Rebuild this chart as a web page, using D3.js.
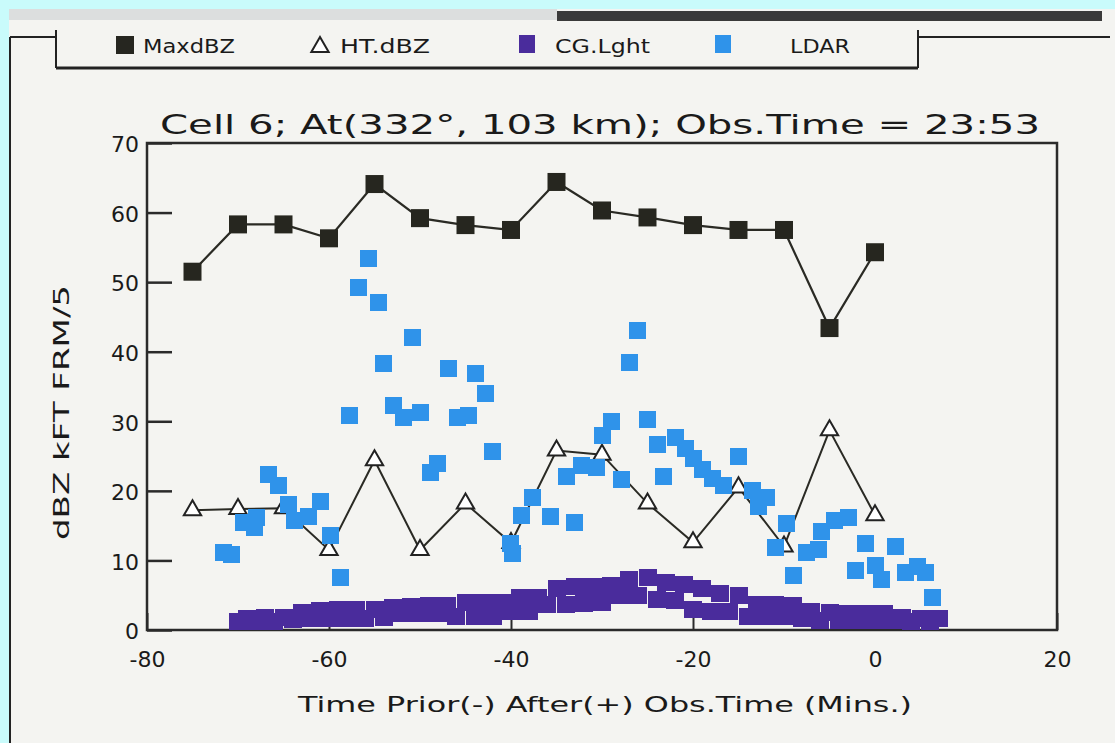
<!DOCTYPE html>
<html>
<head>
<meta charset="utf-8">
<script src="https://cdn.jsdelivr.net/npm/d3@7"></script>
<style>
  body { margin: 0; background: #c9fbfb; }
  svg { display: block; }
  text { font-family: "DejaVu Sans", sans-serif; fill: #1a1a1a; }
</style>
</head>
<body>
<div id="chart"></div>
<script>
// values
var maxTime = [-75, -70, -65, -60, -55, -50, -45, -40, -35, -30, -25, -20, -15, -10, -5, 0];
var maxDbz = [51.5, 58.3, 58.3, 56.3, 64.1, 59.2, 58.2, 57.5, 64.4, 60.3, 59.3, 58.2, 57.5, 57.5, 43.4, 54.3];

var htTime = [-75, -70, -65, -60, -55, -50, -45, -40, -35, -30, -25, -20, -15, -10, -5, 0];
var htDbz = [17.2, 17.4, 17.5, 11.5, 24.4, 11.5, 18.2, 12.5, 25.8, 25.2, 18.2, 12.6, 20.5, 12, 28.7, 16.5];

var cgTime = [-70, -69, -68, -67, -66, -65, -64, -63, -62, -61, -60, -59, -58, -57, -56, -55,
  -54, -53, -52, -51, -50, -49, -48, -47, -46, -45, -44, -43, -42, -41, -40, -39, -38, -37,
  -36, -35, -34, -33, -32, -31, -30, -29, -28, -27, -26, -25, -24, -23, -22, -21, -20, -19,
  -18, -17, -16, -15, -14, -13, -12, -11, -10, -9, -8, -7, -6, -5, -4, -3, -2, -1, 0,
  1, 2, 3, 4, 5, 6, 7];
var cgCount = [1.2, 1.7, 1.2, 1.8, 1.2, 1.8, 1.5, 2.5, 1.6, 2.8, 1.6, 2.9, 1.6, 2.9, 1.7, 2.9,
  1.8, 3.2, 2.3, 3.4, 2.3, 3.5, 2.3, 3.5, 2, 3.9, 1.9, 3.9, 2, 4, 2.6, 4.6, 2.7, 4.7,
  3.7, 6, 3.7, 6.2, 3.8, 6.3, 4, 6.4, 5, 7.2, 5, 7.5, 4.4, 6.8, 4.3, 6.6, 3, 6,
  2.6, 5.3, 2.6, 5, 2, 3.7, 1.9, 3.6, 1.9, 3.5, 1.6, 2.6, 1.4, 2.5, 1.4, 2.4, 1.4, 2.4, 1.4,
  2.3, 1.3, 1.8, 1.2, 1.7, 1.15, 1.6];

var ldarTime = [-71.6, -70.7, -69.4, -68.2, -68, -66.7, -65.6, -64.4, -63.8, -62.3, -60.9, -59.8,
  -58.7, -57.8, -56.8, -55.7, -54.6, -54, -52.9, -51.8, -50.8, -49.9, -48.9, -48.1, -46.9,
  -45.9, -44.7, -43.9, -42.8, -42, -40.1, -39.8, -38.8, -37.6, -35.7, -33.9, -33, -32.2,
  -30.6, -30, -29, -27.9, -27, -26.1, -25, -23.9, -23.2, -21.9, -20.8, -19.9, -19, -17.9,
  -16.6, -15, -13.5, -12.8, -11.9, -10.9, -9.7, -9, -7.5, -6.2, -5.9, -4.4, -2.9, -2.1,
  -1, 0, 0.7, 2.2, 3.3, 4.7, 5.6, 6.3];
var ldarValue = [11.2, 10.8, 15.5, 14.8, 16.2, 22.3, 20.8, 18, 15.8, 16.3, 18.4, 13.6,
  7.6, 30.9, 49.3, 53.4, 47.1, 38.3, 32.3, 30.5, 42.1, 31.2, 22.6, 24, 37.6,
  30.5, 30.9, 36.9, 34, 25.6, 12.5, 11, 16.5, 19, 16.3, 22, 15.4, 23.7,
  23.3, 28, 29.9, 21.6, 38.4, 43.1, 30.2, 26.6, 22, 27.7, 26.1, 24.7, 23, 21.8,
  20.8, 24.9, 20.1, 17.7, 19, 11.8, 15.3, 7.9, 11.2, 11.5, 14.1, 15.8, 16.1, 8.6,
  12.5, 9.3, 7.2, 12, 8.2, 9.1, 8.3, 4.7];

var legendNames = ["MaxdBZ", "HT.dBZ", "CG.Lght", "LDAR"];
var xTicks = [-80, -60, -40, -20, 0, 20];
var yTicks = [0, 10, 20, 30, 40, 50, 60, 70];

var W = 1115, H = 743;
var svg = d3.select("#chart").append("svg")
  .attr("width", W)
  .attr("height", H);

// paper + scan edges
svg.append("rect").attr("x", 0).attr("y", 0).attr("width", W).attr("height", H).attr("fill", "#c9fbfb");
svg.append("rect").attr("x", 9).attr("y", 9).attr("width", W - 9).attr("height", H - 9).attr("fill", "#f4f4f1");
svg.append("rect").attr("x", 9).attr("y", 9).attr("width", 548).attr("height", 11).attr("fill", "#dcdede");
svg.append("rect").attr("x", 557).attr("y", 11).attr("width", 545).attr("height", 10).attr("fill", "#3a3a3a");

var frame = svg.append("g").attr("stroke", "#222").attr("fill", "none");
frame.append("line").attr("x1", 10).attr("y1", 37).attr("x2", 10).attr("y2", H).attr("stroke-width", 2);
frame.append("line").attr("x1", 10).attr("y1", 37).attr("x2", 56).attr("y2", 37).attr("stroke-width", 2);
frame.append("line").attr("x1", 918).attr("y1", 37).attr("x2", 1110).attr("y2", 37).attr("stroke-width", 2);
frame.append("line").attr("x1", 56).attr("y1", 30).attr("x2", 56).attr("y2", 68).attr("stroke-width", 2);
frame.append("line").attr("x1", 918).attr("y1", 30).attr("x2", 918).attr("y2", 68).attr("stroke-width", 2);
frame.append("line").attr("x1", 56).attr("y1", 68).attr("x2", 918).attr("y2", 68).attr("stroke-width", 3);

// legend
var legendX = [125, 320, 527, 723];
var legendTextX = [143, 340, 555, 790];
var legendTextW = [92, 90, 95, 60];
var lg = svg.append("g");
lg.append("rect").attr("x", legendX[0] - 9).attr("y", 36).attr("width", 18).attr("height", 18).attr("fill", "#262620");
lg.append("path").attr("d", d3.symbol(d3.symbolTriangle, 130)()).attr("transform", "translate(" + legendX[1] + ",47)")
  .attr("fill", "#fff").attr("stroke", "#222").attr("stroke-width", 2);
lg.append("rect").attr("x", legendX[2] - 8).attr("y", 35).attr("width", 16).attr("height", 18).attr("fill", "#4a2c9c");
lg.append("rect").attr("x", legendX[3] - 8).attr("y", 35).attr("width", 16).attr("height", 18).attr("fill", "#2f93ea");
lg.selectAll("text").data(legendNames).enter().append("text")
  .attr("x", function(d, i) { return legendTextX[i]; })
  .attr("y", 53)
  .attr("font-size", 20)
  .attr("textLength", function(d, i) { return legendTextW[i]; })
  .attr("lengthAdjust", "spacingAndGlyphs")
  .text(function(d) { return d; });

// plot area
var margin = {left: 147, right: 1057, top: 143, bottom: 630};
var x = d3.scaleLinear().domain([-80, 20]).range([margin.left, margin.right]);
var y = d3.scaleLinear().domain([0, 70]).range([margin.bottom, margin.top]);

svg.append("text")
  .attr("x", 160).attr("y", 134)
  .attr("font-size", 27)
  .attr("textLength", 880)
  .attr("lengthAdjust", "spacingAndGlyphs")
  .text("Cell 6; At(332°, 103 km); Obs.Time = 23:53");

svg.append("rect")
  .attr("x", margin.left).attr("y", margin.top)
  .attr("width", margin.right - margin.left).attr("height", margin.bottom - margin.top)
  .attr("fill", "none").attr("stroke", "#2a2a2a").attr("stroke-width", 2.5);

// inward ticks
var yAxis = d3.axisLeft(y).tickValues(yTicks).tickSize(-25).tickPadding(8).tickFormat(d3.format("d"));
var gy = svg.append("g").attr("transform", "translate(" + margin.left + ",0)").call(yAxis);
gy.select(".domain").remove();
gy.selectAll("line").attr("stroke", "#2a2a2a").attr("stroke-width", 2.5);
gy.selectAll("text").attr("font-size", 22).attr("font-family", "DejaVu Sans").attr("fill", "#1a1a1a").attr("dy", "0.4em");

var xAxis = d3.axisBottom(x).tickValues(xTicks).tickSize(-17).tickPadding(26).tickFormat(function(d) { return d < 0 ? "-" + Math.abs(d) : d; });
var gx = svg.append("g").attr("transform", "translate(0," + margin.bottom + ")").call(xAxis);
gx.select(".domain").remove();
gx.selectAll("line").attr("stroke", "#2a2a2a").attr("stroke-width", 2);
gx.selectAll("text").attr("font-size", 22).attr("font-family", "DejaVu Sans").attr("fill", "#1a1a1a").attr("dy", "0.5em");

svg.append("text")
  .attr("x", 298).attr("y", 712)
  .attr("font-size", 21)
  .attr("textLength", 614)
  .attr("lengthAdjust", "spacingAndGlyphs")
  .text("Time Prior(-) After(+)  Obs.Time (Mins.)");

svg.append("text")
  .attr("transform", "translate(69,540) rotate(-90)")
  .attr("font-size", 21)
  .attr("textLength", 255)
  .attr("lengthAdjust", "spacingAndGlyphs")
  .text("dBZ  kFT  FRM/5");

// MaxdBZ line + squares
var maxData = maxTime.map(function(t, i) { return {t: t, v: maxDbz[i]}; });
var line = d3.line().x(function(d) { return x(d.t); }).y(function(d) { return y(d.v); });
svg.append("path").attr("d", line(maxData)).attr("fill", "none").attr("stroke", "#2a2a24").attr("stroke-width", 2.2);
svg.selectAll(".maxpt").data(maxData).enter().append("rect")
  .attr("x", function(d) { return x(d.t) - 9; })
  .attr("y", function(d) { return y(d.v) - 9; })
  .attr("width", 18).attr("height", 18)
  .attr("fill", "#26261f");

// HT.dBZ line + triangles
var htData = htTime.map(function(t, i) { return {t: t, v: htDbz[i]}; });
svg.append("path").attr("d", line(htData)).attr("fill", "none").attr("stroke", "#2a2a24").attr("stroke-width", 2);
svg.selectAll(".htpt").data(htData).enter().append("path")
  .attr("d", d3.symbol(d3.symbolTriangle, 130)())
  .attr("transform", function(d) { return "translate(" + x(d.t) + "," + y(d.v) + ")"; })
  .attr("fill", "#fff").attr("stroke", "#222").attr("stroke-width", 2);

// CG lightning
var cgData = cgTime.map(function(t, i) { return {t: t, v: cgCount[i]}; });
svg.selectAll(".cgpt").data(cgData).enter().append("rect")
  .attr("x", function(d) { return x(d.t) - 9; })
  .attr("y", function(d) { return y(d.v) - 8.5; })
  .attr("width", 18).attr("height", 17)
  .attr("shape-rendering", "crispEdges")
  .attr("fill", "#4a2c9c");

// LDAR
var ldarData = ldarTime.map(function(t, i) { return {t: t, v: ldarValue[i]}; });
svg.selectAll(".ldpt").data(ldarData).enter().append("rect")
  .attr("x", function(d) { return x(d.t) - 8.5; })
  .attr("y", function(d) { return y(d.v) - 8.5; })
  .attr("width", 17).attr("height", 17)
  .attr("shape-rendering", "crispEdges")
  .attr("fill", "#2f93ea");
</script>
</body>
</html>
